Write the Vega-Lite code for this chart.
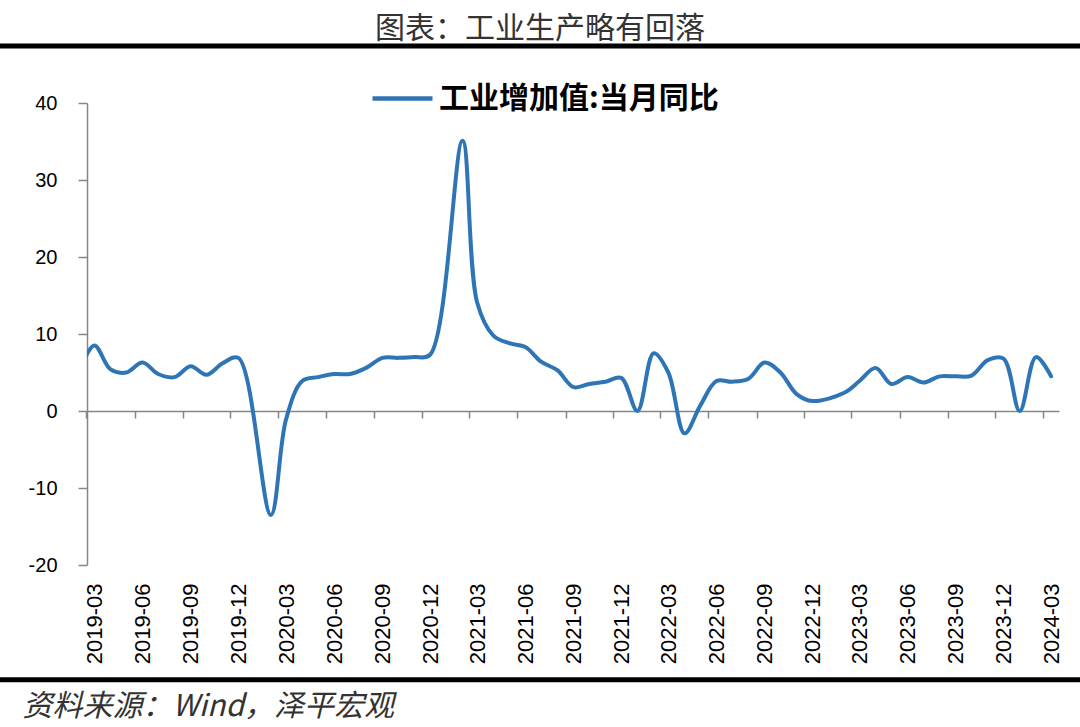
{
  "$schema": "https://vega.github.io/schema/vega-lite/v6.json",
  "autosize": "none",
  "width": 972,
  "height": 462,
  "padding": {"left": 87, "top": 103, "right": 21, "bottom": 162},
  "background": "white",
  "title": {
    "text": "图表：工业生产略有回落",
    "font": "Noto Sans CJK SC",
    "fontSize": 30,
    "fontWeight": "normal",
    "color": "#333333",
    "anchor": "middle",
    "frame": "group",
    "dx": -33,
    "offset": 0,
    "lineHeight": 30
  },
  "data": {
    "values": [
      {"date": "2019-02-01", "v": 5.3},
      {"date": "2019-03-01", "v": 8.5},
      {"date": "2019-04-01", "v": 5.4},
      {"date": "2019-05-01", "v": 5.0},
      {"date": "2019-06-01", "v": 6.3},
      {"date": "2019-07-01", "v": 4.8},
      {"date": "2019-08-01", "v": 4.4},
      {"date": "2019-09-01", "v": 5.8},
      {"date": "2019-10-01", "v": 4.7},
      {"date": "2019-11-01", "v": 6.2},
      {"date": "2019-12-01", "v": 6.9},
      {"date": "2020-02-01", "v": -13.5},
      {"date": "2020-03-01", "v": -1.1},
      {"date": "2020-04-01", "v": 3.9},
      {"date": "2020-05-01", "v": 4.4},
      {"date": "2020-06-01", "v": 4.8},
      {"date": "2020-07-01", "v": 4.8},
      {"date": "2020-08-01", "v": 5.6},
      {"date": "2020-09-01", "v": 6.9},
      {"date": "2020-10-01", "v": 6.9},
      {"date": "2020-11-01", "v": 7.0},
      {"date": "2020-12-01", "v": 7.3},
      {"date": "2021-02-01", "v": 35.1},
      {"date": "2021-03-01", "v": 14.1},
      {"date": "2021-04-01", "v": 9.8},
      {"date": "2021-05-01", "v": 8.8},
      {"date": "2021-06-01", "v": 8.3},
      {"date": "2021-07-01", "v": 6.4},
      {"date": "2021-08-01", "v": 5.3},
      {"date": "2021-09-01", "v": 3.1},
      {"date": "2021-10-01", "v": 3.5},
      {"date": "2021-11-01", "v": 3.8},
      {"date": "2021-12-01", "v": 4.3},
      {"date": "2022-01-01", "v": 0},
      {"date": "2022-02-01", "v": 7.5},
      {"date": "2022-03-01", "v": 5.0},
      {"date": "2022-04-01", "v": -2.9},
      {"date": "2022-05-01", "v": 0.7},
      {"date": "2022-06-01", "v": 3.9},
      {"date": "2022-07-01", "v": 3.8},
      {"date": "2022-08-01", "v": 4.2},
      {"date": "2022-09-01", "v": 6.3},
      {"date": "2022-10-01", "v": 5.0},
      {"date": "2022-11-01", "v": 2.2},
      {"date": "2022-12-01", "v": 1.3},
      {"date": "2023-02-01", "v": 2.4},
      {"date": "2023-03-01", "v": 3.9},
      {"date": "2023-04-01", "v": 5.6},
      {"date": "2023-05-01", "v": 3.5},
      {"date": "2023-06-01", "v": 4.4},
      {"date": "2023-07-01", "v": 3.7},
      {"date": "2023-08-01", "v": 4.5},
      {"date": "2023-09-01", "v": 4.5},
      {"date": "2023-10-01", "v": 4.6},
      {"date": "2023-11-01", "v": 6.6},
      {"date": "2023-12-01", "v": 6.8},
      {"date": "2024-01-01", "v": 0},
      {"date": "2024-02-01", "v": 7.0},
      {"date": "2024-03-01", "v": 4.5}
    ]
  },
  "layer": [
    {
      "mark": {"type": "line", "interpolate": "catmull-rom", "strokeWidth": 4, "strokeCap": "round", "clip": true},
      "encoding": {
        "x": {
          "field": "date",
          "type": "temporal",
          "scale": {
            "type": "utc",
            "domain": [
              {"year": 2019, "month": 2, "date": 15, "utc": true},
              {"year": 2024, "month": 3, "date": 16, "utc": true}
            ]
          },
          "axis": {
            "orient": "bottom",
            "values": [
              {"year": 2019, "month": 3, "date": 1, "utc": true},
              {"year": 2019, "month": 6, "date": 1, "utc": true},
              {"year": 2019, "month": 9, "date": 1, "utc": true},
              {"year": 2019, "month": 12, "date": 1, "utc": true},
              {"year": 2020, "month": 3, "date": 1, "utc": true},
              {"year": 2020, "month": 6, "date": 1, "utc": true},
              {"year": 2020, "month": 9, "date": 1, "utc": true},
              {"year": 2020, "month": 12, "date": 1, "utc": true},
              {"year": 2021, "month": 3, "date": 1, "utc": true},
              {"year": 2021, "month": 6, "date": 1, "utc": true},
              {"year": 2021, "month": 9, "date": 1, "utc": true},
              {"year": 2021, "month": 12, "date": 1, "utc": true},
              {"year": 2022, "month": 3, "date": 1, "utc": true},
              {"year": 2022, "month": 6, "date": 1, "utc": true},
              {"year": 2022, "month": 9, "date": 1, "utc": true},
              {"year": 2022, "month": 12, "date": 1, "utc": true},
              {"year": 2023, "month": 3, "date": 1, "utc": true},
              {"year": 2023, "month": 6, "date": 1, "utc": true},
              {"year": 2023, "month": 9, "date": 1, "utc": true},
              {"year": 2023, "month": 12, "date": 1, "utc": true},
              {"year": 2024, "month": 3, "date": 1, "utc": true}
            ],
            "labelExpr": "utcFormat(datum.value, '%Y-%m')",
            "labelAngle": 270,
            "labelFont": "Liberation Sans",
            "labelFontSize": 22,
            "labelColor": "#000000",
            "labelPadding": 18,
            "labelOverlap": false,
            "labelFlush": false,
            "domain": false,
            "ticks": false,
            "grid": false,
            "title": "资料来源：Wind，泽平宏观",
            "titleFont": "Noto Sans CJK SC",
            "titleFontSize": 30,
            "titleFontStyle": "italic",
            "titleFontWeight": "normal",
            "titleColor": "#333333",
            "titleAngle": 0,
            "titleAlign": "left",
            "titleBaseline": "middle",
            "titleAnchor": "start",
            "titleX": -65,
            "titleY": 141
          }
        },
        "y": {
          "field": "v",
          "type": "quantitative",
          "scale": {"domain": [-20, 40], "nice": false, "zero": false},
          "axis": {
            "values": [-20, -10, 0, 10, 20, 30, 40],
            "labelExpr": "'' + datum.value",
            "title": null,
            "grid": false,
            "domainColor": "#868686",
            "domainWidth": 1.5,
            "tickColor": "#868686",
            "tickWidth": 1.5,
            "tickSize": 9,
            "labelFont": "Liberation Sans",
            "labelFontSize": 20,
            "labelColor": "#000000",
            "labelPadding": 21
          }
        },
        "color": {
          "datum": "工业增加值:当月同比",
          "type": "nominal",
          "scale": {"range": ["#2E75B6"]},
          "legend": {
            "title": null,
            "orient": "none",
            "legendX": 283,
            "legendY": -37,
            "symbolType": "stroke",
            "symbolSize": 3600,
            "symbolStrokeWidth": 4.5,
            "labelFont": "Noto Sans CJK SC",
            "labelFontSize": 30,
            "labelFontWeight": "bold",
            "labelColor": "#000000",
            "labelLimit": 600,
            "labelOffset": 4
          }
        }
      }
    },
    {
      "data": {"values": [{}]},
      "mark": {"type": "rule", "strokeWidth": 5, "color": "#000000", "clip": false},
      "encoding": {
        "x": {
          "datum": {"year": 2018, "month": 7, "date": 1, "utc": true},
          "type": "temporal",
          "scale": {
            "type": "utc",
            "domain": [
              {"year": 2019, "month": 2, "date": 15, "utc": true},
              {"year": 2024, "month": 3, "date": 16, "utc": true}
            ]
          },
          "axis": {
            "orient": "bottom",
            "offset": -154,
            "values": [
              {"year": 2019, "month": 3, "date": 1, "utc": true},
              {"year": 2019, "month": 6, "date": 1, "utc": true},
              {"year": 2019, "month": 9, "date": 1, "utc": true},
              {"year": 2019, "month": 12, "date": 1, "utc": true},
              {"year": 2020, "month": 3, "date": 1, "utc": true},
              {"year": 2020, "month": 6, "date": 1, "utc": true},
              {"year": 2020, "month": 9, "date": 1, "utc": true},
              {"year": 2020, "month": 12, "date": 1, "utc": true},
              {"year": 2021, "month": 3, "date": 1, "utc": true},
              {"year": 2021, "month": 6, "date": 1, "utc": true},
              {"year": 2021, "month": 9, "date": 1, "utc": true},
              {"year": 2021, "month": 12, "date": 1, "utc": true},
              {"year": 2022, "month": 3, "date": 1, "utc": true},
              {"year": 2022, "month": 6, "date": 1, "utc": true},
              {"year": 2022, "month": 9, "date": 1, "utc": true},
              {"year": 2022, "month": 12, "date": 1, "utc": true},
              {"year": 2023, "month": 3, "date": 1, "utc": true},
              {"year": 2023, "month": 6, "date": 1, "utc": true},
              {"year": 2023, "month": 9, "date": 1, "utc": true},
              {"year": 2023, "month": 12, "date": 1, "utc": true},
              {"year": 2024, "month": 3, "date": 1, "utc": true}
            ],
            "labels": false,
            "title": null,
            "grid": false,
            "domainColor": "#868686",
            "domainWidth": 1.5,
            "tickColor": "#868686",
            "tickWidth": 1.5,
            "tickSize": 7,
            "tickOffset": -8
          }
        },
        "x2": {"datum": {"year": 2024, "month": 7, "date": 1, "utc": true}},
        "y": {
          "datum": 47.4,
          "type": "quantitative",
          "scale": {"domain": [-20, 40], "nice": false, "zero": false},
          "axis": null
        }
      }
    },
    {
      "data": {"values": [{}]},
      "mark": {"type": "rule", "strokeWidth": 5, "color": "#000000", "clip": false},
      "encoding": {
        "x": {
          "datum": {"year": 2018, "month": 7, "date": 1, "utc": true},
          "type": "temporal",
          "scale": {
            "type": "utc",
            "domain": [
              {"year": 2019, "month": 2, "date": 15, "utc": true},
              {"year": 2024, "month": 3, "date": 16, "utc": true}
            ]
          },
          "axis": null
        },
        "x2": {"datum": {"year": 2024, "month": 7, "date": 1, "utc": true}},
        "y": {
          "datum": -34.9,
          "type": "quantitative",
          "scale": {"domain": [-20, 40], "nice": false, "zero": false},
          "axis": null
        }
      }
    }
  ],
  "resolve": {"axis": {"x": "independent", "y": "independent"}},
  "config": {
    "view": {"stroke": null},
    "axis": {"labelFontWeight": "normal"}
  }
}
